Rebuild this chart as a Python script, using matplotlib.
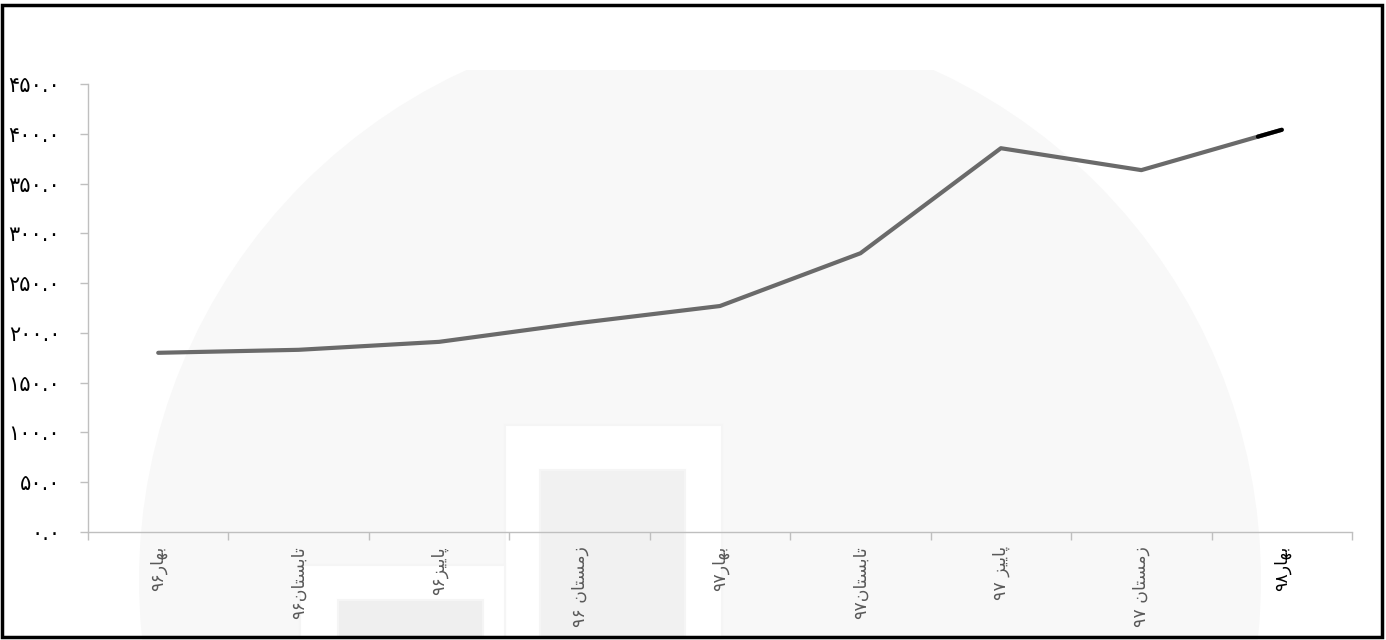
import matplotlib
matplotlib.use("Agg")
import matplotlib.pyplot as plt
from matplotlib.patches import Rectangle, Ellipse
import numpy as np

plt.rcParams['font.family'] = ['DejaVu Sans']

# visual-order, pre-shaped Persian labels (matplotlib does no Arabic shaping)
seasons = ["بهار۹۶", "تابستان۹۶", "پاییز۹۶", "زمستان ۹۶", "بهار۹۷",
           "تابستان۹۷", "پاییز ۹۷", "زمستان ۹۷", "بهار۹۸"]
labels_visual = ["۹۶\uFEAD\uFE8E\uFEEC\uFE91",
                 "۹۶\uFEE5\uFE8E\uFE98\uFEB4\uFE91\uFE8E\uFE97",
                 "۹۶\uFEB0\uFEF4\uFEF3\uFE8E\uFB58",
                 "۹۶ \uFEE5\uFE8E\uFE98\uFEB4\uFEE3\uFEAF",
                 "۹۷\uFEAD\uFE8E\uFEEC\uFE91",
                 "۹۷\uFEE5\uFE8E\uFE98\uFEB4\uFE91\uFE8E\uFE97",
                 "۹۷ \uFEB0\uFEF4\uFEF3\uFE8E\uFB58",
                 "۹۷ \uFEE5\uFE8E\uFE98\uFEB4\uFEE3\uFEAF",
                 "۹۸\uFEAD\uFE8E\uFEEC\uFE91"]
values = [180, 183, 191, 210, 227, 280, 385.5, 363.5, 404]
yticks = [0, 50, 100, 150, 200, 250, 300, 350, 400, 450]

fa_digits = str.maketrans("0123456789", "۰۱۲۳۴۵۶۷۸۹")
def fa(v):
    return ("%.1f" % v).translate(fa_digits)

fig = plt.figure(figsize=(13.86, 6.4), dpi=100)
W, H = 1386.0, 640.0

# faint watermark in the background
clip = Rectangle((0, 0), 1, 1 - 70 / H, transform=fig.transFigure)
circ = Ellipse((700 / W, 1 - 580 / H), 2 * 561 / W, 2 * 561 / H,
               transform=fig.transFigure, facecolor="#f8f8f8", edgecolor="none", zorder=-5)
fig.patches.append(circ)
circ.set_clip_path(clip)
for (x0, y0, x1, y1, fc) in [(505, 425, 722, 640, "white"), (540, 470, 685, 640, "#f1f1f1"),
                             (300, 565, 505, 640, "white"), (338, 600, 483, 640, "#efefef")]:
    fig.patches.append(Rectangle((x0 / W, 1 - y1 / H), (x1 - x0) / W, (y1 - y0) / H,
                                 transform=fig.transFigure, facecolor=fc,
                                 edgecolor="#f5f5f5", lw=1.5, zorder=-4))

ax = fig.add_axes([88 / W, 1 - 532 / H, (1352 - 88) / W, (532 - 84) / H])
ax.set_facecolor("none")
ax.set_zorder(2)

x = np.arange(len(values))
ax.plot(x, values, color="#6a6a6a", lw=3, solid_capstyle="round", zorder=3)
# last piece of the line drawn in black
xs = [x[-2] + 0.83 * (x[-1] - x[-2]), x[-1]]
ys = [values[-2] + 0.83 * (values[-1] - values[-2]), values[-1]]
ax.plot(xs, ys, color="black", lw=3, solid_capstyle="round", zorder=4)

ax.set_xlim(-0.5, len(values) - 0.5)
ax.set_ylim(0, 450)
ax.set_yticks(yticks)
ax.set_yticklabels([fa(v) for v in yticks], fontsize=15, color="black")
ax.set_xticks(x)
ax.set_xticklabels(labels_visual, rotation=90, fontsize=12.5, color="#595959")
ax.get_xticklabels()[-1].set_color("black")
ax.set_xticks(np.arange(-0.5, len(values)), minor=True)
ax.tick_params(axis="x", which="major", length=0, pad=10)
ax.tick_params(axis="x", which="minor", length=6, color="#bfbfbf", width=1)
ax.tick_params(axis="y", length=6, color="#bfbfbf", width=1, pad=14)

for s in ["top", "right"]:
    ax.spines[s].set_visible(False)
for s in ["left", "bottom"]:
    ax.spines[s].set_color("#bfbfbf")
    ax.spines[s].set_linewidth(1)

# outer frame
fig.patches.append(Rectangle((2 / W, 1 - 637 / H), 1380 / W, 632 / H, transform=fig.transFigure,
                             facecolor="none", edgecolor="black", lw=2.5, zorder=10))

fig.savefig("out.png", dpi=100)
